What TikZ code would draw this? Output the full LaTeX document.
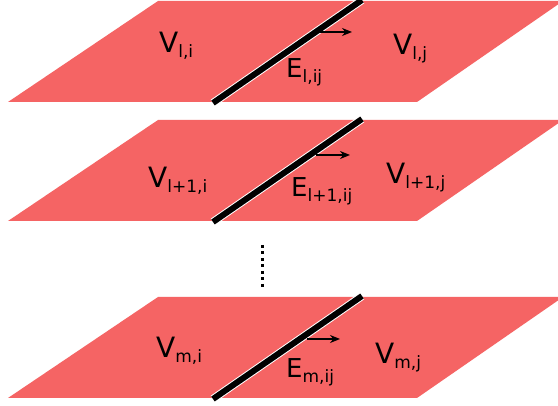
\documentclass[tikz,border=0pt]{standalone}
\usepackage{fontspec}
\setmainfont{DejaVu Sans}
\usetikzlibrary{arrows.meta}
\definecolor{planered}{RGB}{245,100,100}
\newcommand{\lbl}[2]{#1\raisebox{-5pt}{\fontsize{17}{17}\selectfont #2}}
\begin{document}
\begin{tikzpicture}[x=1pt,y=-1pt,
  plane/.style={fill=planered,draw=none},
  edgeline/.style={line width=6pt,black},
  halo/.style={line width=8pt,white},
  flowarrow/.style={-{Stealth[length=10pt,width=8pt]},line width=1.3pt,black},
  vlab/.style={anchor=base west,inner sep=0pt,font=\fontsize{28}{28}\selectfont},
  elab/.style={anchor=base west,inner sep=0pt,font=\fontsize{26}{26}\selectfont}]
\useasboundingbox (0,0) rectangle (558,406);
\fill[white] (0,0) rectangle (558,406);
\clip (0,0) rectangle (558,406);
% layers
\foreach \T/\n in {1/a,120/b,297/c}{
  \begin{scope}[shift={(0,\T)}]
    \fill[plane] (8,101) -- (158,0) -- (563,0) -- (417,101) -- cycle;
    \coordinate (lo\n) at (213,102);
    \coordinate (hi\n) at (362,-1);
    \draw[halo] (lo\n) -- (hi\n);
    \draw[edgeline] (lo\n) -- (hi\n);
  \end{scope}
}
% arrows
\coordinate (sa) at (320,32); \coordinate (ea) at (352,32);
\coordinate (sb) at (316,155); \coordinate (eb) at (350,155);
\coordinate (sc) at (307,339); \coordinate (ec) at (340,339);
\draw[flowarrow] (sa) -- (ea);
\draw[flowarrow] (sb) -- (eb);
\draw[flowarrow] (sc) -- (ec);
% labels
\node[vlab] (v1i) at (159,53) {\lbl{V}{l,i}};
\node[vlab] (v1j) at (393,55) {\lbl{V}{l,j}};
\node[elab] (e1) at (286,78) {\lbl{E}{l,ij}};
\node[vlab] (v2i) at (148,188) {\lbl{V}{l+1,i}};
\node[vlab] (v2j) at (386,184) {\lbl{V}{l+1,j}};
\node[elab] (e2) at (291,197) {\lbl{E}{l+1,ij}};
\node[vlab] (v3i) at (156,358) {\lbl{V}{m,i}};
\node[vlab] (v3j) at (375,364) {\lbl{V}{m,j}};
\node[elab] (e3) at (286,378) {\lbl{E}{m,ij}};
% dots
\coordinate (dtop) at (262,245);
\coordinate (dbot) at (262,287);
\draw[line width=3pt,dash pattern=on 3pt off 3.5pt] (dtop) -- (dbot);
\end{tikzpicture}
\end{document}
